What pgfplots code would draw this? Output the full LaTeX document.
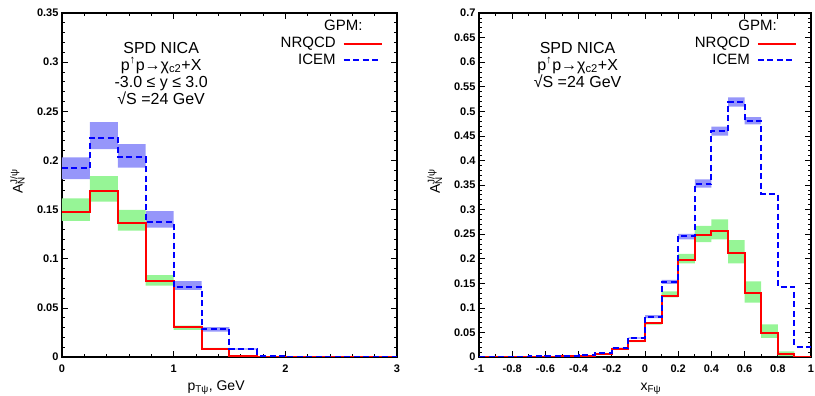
\documentclass[border=0pt]{standalone}
\usepackage{fontspec}
\setmainfont{Liberation Sans}
\usepackage{pgfplots}
\usepackage{pgfplotstable}
\pgfplotsset{compat=1.18}

\definecolor{bandblue}{RGB}{150,150,250}
\definecolor{bandgreen}{RGB}{150,245,150}
\definecolor{nrqred}{RGB}{255,0,0}
\definecolor{iceblue}{RGB}{0,0,255}

% central values, bins given by left edges; last row closes the final bin
\pgfplotstableread{
x    nrq    ice
0.00 0.148  0.192
0.25 0.1686 0.223
0.50 0.1367 0.2035
0.75 0.077  0.1373
1.00 0.0305 0.0709
1.25 0.0085 0.0282
1.50 0.001  0.0081
1.75 0.0005 0.0015
2.00 0      0
3.00 0      0
}\lefttab

\pgfplotstableread{
x    nrq    ice
-1.0 0.001  0.001
-0.9 0.001  0.001
-0.8 0.001  0.001
-0.7 0.001  0.0015
-0.6 0.001  0.002
-0.5 0.0015 0.002
-0.4 0.002  0.0034
-0.3 0.006  0.0075
-0.2 0.0157 0.0183
-0.1 0.032  0.0387
0.0  0.0685 0.082
0.1  0.124  0.1526
0.2  0.1974 0.2463
0.3  0.249  0.352
0.4  0.257  0.4606
0.5  0.211  0.519
0.6  0.1296 0.4796
0.7  0.0495 0.332
0.8  0.006  0.143
0.9  0      0.021
1.0  0      0.021
}\righttab

% uncertainty bands: outline of the step band (upper edge, then lower edge back)
\pgfplotstableread{
x y
0 .203
.25 .203
.25 .239
.5 .239
.5 .2167
.75 .2167
.75 .1485
1 .1485
1 .0773
1.25 .0773
1.25 .0305
1.5 .0305
1.5 .0088
1.75 .0088
1.75 .0075
1.5 .0075
1.5 .0258
1.25 .0258
1.25 .0682
1 .0682
1 .1316
.75 .1316
.75 .1926
.5 .1926
.5 .2116
.25 .2116
.25 .181
0 .181
}\leftblue

\pgfplotstableread{
x y
0 .1614
.25 .1614
.25 .184
.5 .184
.5 .1496
.75 .1496
.75 .0834
1 .0834
1 .032
1.25 .032
1.25 .0092
1.5 .0092
1.5 .0078
1.25 .0078
1.25 .0275
1 .0275
1 .0725
.75 .0725
.75 .1285
.5 .1285
.5 .158
.25 .158
.25 .1384
0 .1384
}\leftgreen

\pgfplotstableread{
x y
-.2 .019
-.1 .019
-.1 .04
0 .04
0 .085
.1 .085
.1 .1567
.2 .1567
.2 .2503
.3 .2503
.3 .3616
.4 .3616
.4 .4687
.5 .4687
.5 .5285
.6 .5285
.6 .488
.7 .488
.7 .4735
.6 .4735
.6 .5095
.5 .5095
.5 .4504
.4 .4504
.4 .3446
.3 .3446
.3 .2395
.2 .2395
.2 .1486
.1 .1486
.1 .079
0 .079
0 .0375
-.1 .0375
-.1 .0175
-.2 .0175
}\rightblue

\pgfplotstableread{
x y
-.2 .0165
-.1 .0165
-.1 .0335
0 .0335
0 .071
.1 .071
.1 .1336
.2 .1336
.2 .2096
.3 .2096
.3 .2666
.4 .2666
.4 .28
.5 .28
.5 .238
.6 .238
.6 .154
.7 .154
.7 .0665
.8 .0665
.8 .0115
.9 .0115
.9 .002
.8 .002
.8 .039
.7 .039
.7 .1106
.6 .1106
.6 .1906
.5 .1906
.5 .2395
.4 .2395
.4 .234
.3 .234
.3 .1906
.2 .1906
.2 .1214
.1 .1214
.1 .066
0 .066
0 .0305
-.1 .0305
-.1 .015
-.2 .015
}\rightgreen

\pgfplotsset{
  gp/.style={
    scale only axis, height=344pt,
    tick align=inside, major tick length=6pt, minor tick length=3pt,
    axis line style={line width=1.1pt},
    every tick/.style={black, line width=0.7pt},
    tick label style={font=\bfseries\fontsize{11}{11}\selectfont},
    xticklabel style={yshift=-4.5pt},
    /pgf/number format/assume math mode=true,
    /pgf/number format/fixed,
    /pgf/number format/precision=2,
    every axis y label/.style={at={(axis description cs:-0.133,0.5)}, rotate=90, anchor=center,
      font=\fontsize{14}{14}\selectfont},
    every axis x label/.style={at={(axis description cs:0.5,-0.096)}, anchor=base,
      font=\fontsize{14}{14}\selectfont},
    ymin=0, no marks,
    legend style={draw=none, fill=none, anchor=north east,
      font=\fontsize{15}{15}\selectfont, row sep=2.7pt, column sep=7pt,
      inner sep=0pt, nodes={inner sep=0pt, text height=11pt, text depth=3pt}},
    legend cell align=right, legend plot pos=right,
    legend image code/.code={\draw[##1] (0pt,0pt) -- (38pt,0pt);},
  },
  band/.style={draw=none, fill=#1, forget plot},
  nrq/.style={color=nrqred, line width=2pt, const plot},
  ice/.style={color=iceblue, line width=2pt, const plot, dash pattern=on 6pt off 3.5pt},
}

\begin{document}
\begin{tikzpicture}
\begin{axis}[gp, at={(0pt,0pt)}, width=335pt,
  xmin=0, xmax=3, ymax=0.35,
  xtick={0,1,2,3}, minor x tick num=4,
  ytick={0,0.05,...,0.351}, minor y tick num=4,
  xlabel={p\textsubscript{Tψ}, GeV},
  ylabel={A\rlap{\textsuperscript{J/ψ}}\textsubscript{N}},
  xlabel style={at={(axis description cs:0.46,-0.096)}},
  legend style={at={(axis description cs:0.958,0.9317)}},
]
\addplot[band=bandblue] table[x=x,y=y]{\leftblue} -- cycle;
\addplot[band=bandgreen] table[x=x,y=y]{\leftgreen} -- cycle;
\addplot[nrq] table[x=x,y=nrq]{\lefttab};
\addlegendentry{NRQCD}
\addplot[ice] table[x=x,y=ice]{\lefttab};
\addlegendentry{ICEM}
\node[font=\fontsize{15}{15}\selectfont, anchor=center] at (axis description cs:0.84,0.965) {GPM:};
\node[font=\fontsize{16}{17}\selectfont, align=center, anchor=north, inner sep=0pt]
  at (axis description cs:0.296,0.9166)
  {SPD NICA\\p\textsuperscript{↑}p→χ\textsubscript{c2}+X\\-3.0 ≤ y ≤ 3.0\\√S =24 GeV};
\end{axis}

\begin{axis}[gp, at={(417pt,0pt)}, width=332pt,
  xmin=-1, xmax=1, ymax=0.7,
  xtick={-1,-0.8,...,1.01}, minor x tick num=1,
  ytick={0,0.05,...,0.701}, minor y tick num=4,
  xlabel={x\textsubscript{Fψ}},
  ylabel={A\rlap{\textsuperscript{J/ψ}}\textsubscript{N}},
  xlabel style={at={(axis description cs:0.518,-0.096)}},
  legend style={at={(axis description cs:0.958,0.9317)}},
]
\addplot[band=bandblue] table[x=x,y=y]{\rightblue} -- cycle;
\addplot[band=bandgreen] table[x=x,y=y]{\rightgreen} -- cycle;
\addplot[nrq] table[x=x,y=nrq]{\righttab};
\addlegendentry{NRQCD}
\addplot[ice] table[x=x,y=ice]{\righttab};
\addlegendentry{ICEM}
\node[font=\fontsize{15}{15}\selectfont, anchor=center] at (axis description cs:0.839,0.965) {GPM:};
\node[font=\fontsize{16}{17}\selectfont, align=center, anchor=north, inner sep=0pt]
  at (axis description cs:0.297,0.9166)
  {SPD NICA\\p\textsuperscript{↑}p→χ\textsubscript{c2}+X\\√S =24 GeV};
\end{axis}
\pgfresetboundingbox
\path[use as bounding box] (-62pt,-39pt) rectangle (753pt,357pt);
\end{tikzpicture}
\end{document}
